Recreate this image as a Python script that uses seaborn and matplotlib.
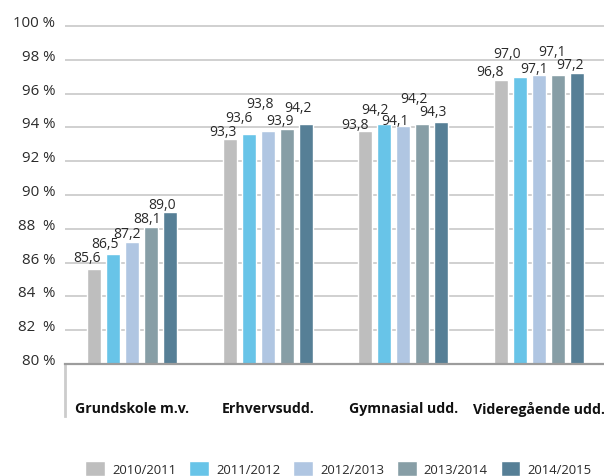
import pandas as pd
import matplotlib.pyplot as plt
import seaborn as sns

# data (percent)
categories = ["Grundskole m.v.", "Erhvervsudd.", "Gymnasial udd.", "Videregående udd."]
years = ["2010/2011", "2011/2012", "2012/2013", "2013/2014", "2014/2015"]
grundskole = [85.6, 86.5, 87.2, 88.1, 89.0]
erhvervsudd = [93.3, 93.6, 93.8, 93.9, 94.2]
gymnasial = [93.8, 94.2, 94.1, 94.2, 94.3]
videregaaende = [96.8, 97.0, 97.1, 97.1, 97.2]

y_ticks = [80, 82, 84, 86, 88, 90, 92, 94, 96, 98, 100]
y_tick_labels = ["80 %", "82  %", "84  %", "86 %", "88  %", "90 %",
                 "92 %", "94 %", "96 %", "98 %", "100 %"]

colors = ["#bebebe", "#68c4e8", "#b0c6e2", "#879ea6", "#567f96"]

# value label nudges in pixels (dx, dy above bar top), staggered like the original
label_dx = [[-7, -8, -5, -4, -8],
            [-7, -10, -8, -7, -8],
            [-10, -10, -8, -8, -8],
            [-11, -13, -5, -6, -7]]
label_dy = [[8, 7, 5, 5, 4],
            [4, 13, 24, 5, 13],
            [3, 11, 2, 22, 7],
            [5, 20, 3, 20, 5]]

rows = []
for cat, vals in zip(categories, [grundskole, erhvervsudd, gymnasial, videregaaende]):
    for yr, v in zip(years, vals):
        rows.append({"Kategori": cat, "År": yr, "Andel": v})
df = pd.DataFrame(rows)

sns.set_style("white")
plt.rcParams["font.family"] = ["Open Sans", "DejaVu Sans"]

W, H = 604, 477
fig = plt.figure(figsize=(W / 100, H / 100), dpi=100)
ax = fig.add_axes([65 / W, (H - 365) / H, (W - 65) / W, 346.5 / H])

sns.barplot(data=df, x="Kategori", y="Andel", hue="År", palette=colors,
            width=0.7, gap=0.26, ax=ax, errorbar=None, saturation=1)

ax.set_ylim(80, 100.5)
ax.set_xlim(-0.494, 3.478)
ax.set_yticks(y_ticks)
ax.set_yticklabels(y_tick_labels, fontsize=10.8, color="#2a2a2a")
for lab in ax.get_yticklabels():
    lab.set_va("baseline")
ax.tick_params(axis="y", length=0, pad=7)
ax.tick_params(axis="x", length=0, pad=27)
ax.set_xticks(range(len(categories)))
ax.set_xticklabels(categories, fontsize=10.2, fontweight="bold", color="#111111")
ax.set_xlabel("")
ax.set_ylabel("")

ax.grid(axis="y", color="#c8c8c8", linewidth=1.2)
ax.set_axisbelow(True)
for side in ["top", "right"]:
    ax.spines[side].set_visible(False)
ax.spines["bottom"].set_color("#9c9c9c")
ax.spines["bottom"].set_linewidth(1.6)
ax.spines["left"].set_color("#cccccc")
ax.spines["left"].set_linewidth(2)
ax.spines["left"].set_bounds(76.92, 80)

# value labels
for j, cont in enumerate(ax.containers):
    for i, bar in enumerate(cont):
        h = bar.get_height()
        ax.annotate(f"{h:.1f}".replace(".", ","),
                    xy=(bar.get_x() + bar.get_width() / 2, h),
                    xytext=(label_dx[i][j], label_dy[i][j]),
                    textcoords="offset pixels", ha="center", va="baseline",
                    fontsize=10, color="#2a2a2a")

handles, labels = ax.get_legend_handles_labels()
ax.get_legend().remove()
fig.legend(handles, labels, loc="center", bbox_to_anchor=(0.5604, 0.016),
           ncol=5, frameon=False, fontsize=9.4, handlelength=1.5,
           handleheight=1.4, handletextpad=0.55, columnspacing=1.0,
           labelcolor="#2a2a2a")

fig.savefig("out.png", dpi=100)
